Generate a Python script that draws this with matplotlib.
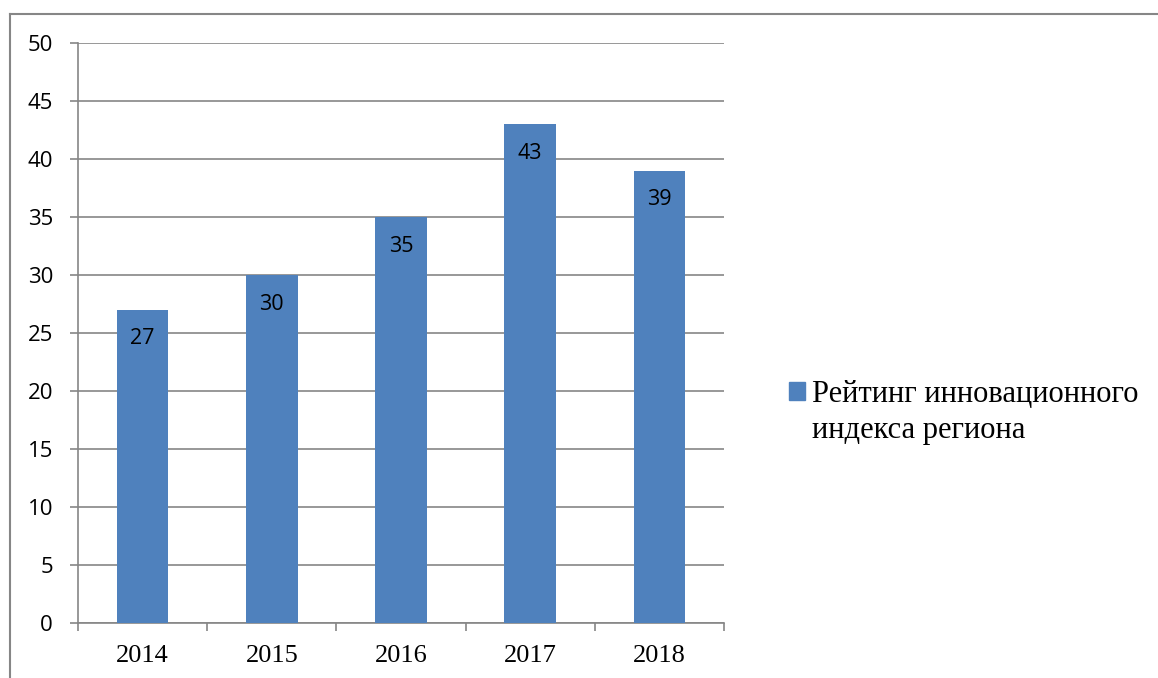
import matplotlib
matplotlib.use("Agg")
import matplotlib.pyplot as plt
from matplotlib.lines import Line2D
from matplotlib.patches import Patch

years = ["2014", "2015", "2016", "2017", "2018"]
values = [27, 30, 35, 43, 39]
series_name_lines = ["Рейтинг инновационного", "индекса региона"]

W, H = 1158, 678
fig = plt.figure(figsize=(W / 100, H / 100), dpi=100)
ax = fig.add_axes([78 / W, 1 - 623 / H, (724 - 78) / W, (623 - 43) / H])

bar_color = "#4F81BD"
grid_color = "#868686"

x = list(range(len(years)))
bars = ax.bar(x, values, width=0.4, color=bar_color, zorder=3)

ax.set_xlim(-0.5, len(years) - 0.5)
ax.set_ylim(0, 50)
ax.set_yticks(range(0, 51, 5))
ax.yaxis.grid(True, color=grid_color, linewidth=1.2, zorder=0)
ax.set_axisbelow(True)

for s in ["top", "right"]:
    ax.spines[s].set_visible(False)
for s in ["left", "bottom"]:
    ax.spines[s].set_color(grid_color)
    ax.spines[s].set_linewidth(1.2)

ax.tick_params(axis="y", length=6, width=1.2, color=grid_color, pad=12,
               labelsize=16)
for lbl in ax.get_yticklabels():
    lbl.set_family("Open Sans")

# x ticks: major ticks at category boundaries, labels at centers
ax.set_xticks([i - 0.5 for i in range(len(years) + 1)])
ax.set_xticklabels([])
ax.set_xticks(x, minor=True)
ax.set_xticklabels(years, minor=True, family="Liberation Serif", fontsize=19)
ax.tick_params(axis="x", which="major", direction="out", length=6, width=1.2,
               color=grid_color)
ax.tick_params(axis="x", which="minor", length=0, pad=16)

for xi, v in zip(x, values):
    ax.annotate(str(v), (xi, v), xytext=(0, -21), textcoords="offset points",
                ha="center", va="center", fontsize=15.5, family="Open Sans",
                color="black", zorder=4)

# legend: square aligned with the first line, second line wraps beneath
handle = Patch(facecolor=bar_color, edgecolor=bar_color)
leg = fig.legend([handle], [series_name_lines[0]], loc="center left",
                 bbox_to_anchor=(789 / W, 1 - 394 / H), frameon=False,
                 prop={"family": "Liberation Serif", "size": 22},
                 handlelength=0.52, handleheight=0.52, handletextpad=0.23,
                 borderaxespad=0, borderpad=0)
fig.text(812 / W, 1 - 438 / H, series_name_lines[1], ha="left", va="baseline",
         family="Liberation Serif", fontsize=22)

# outer border
fig.add_artist(Line2D([9.5 / W, 1], [1 - 14 / H, 1 - 14 / H], color="#868686",
                      linewidth=1.5, transform=fig.transFigure))
fig.add_artist(Line2D([9.5 / W, 9.5 / W], [0, 1 - 14 / H], color="#868686",
                      linewidth=1.5, transform=fig.transFigure))

fig.savefig("out.png", dpi=100)
